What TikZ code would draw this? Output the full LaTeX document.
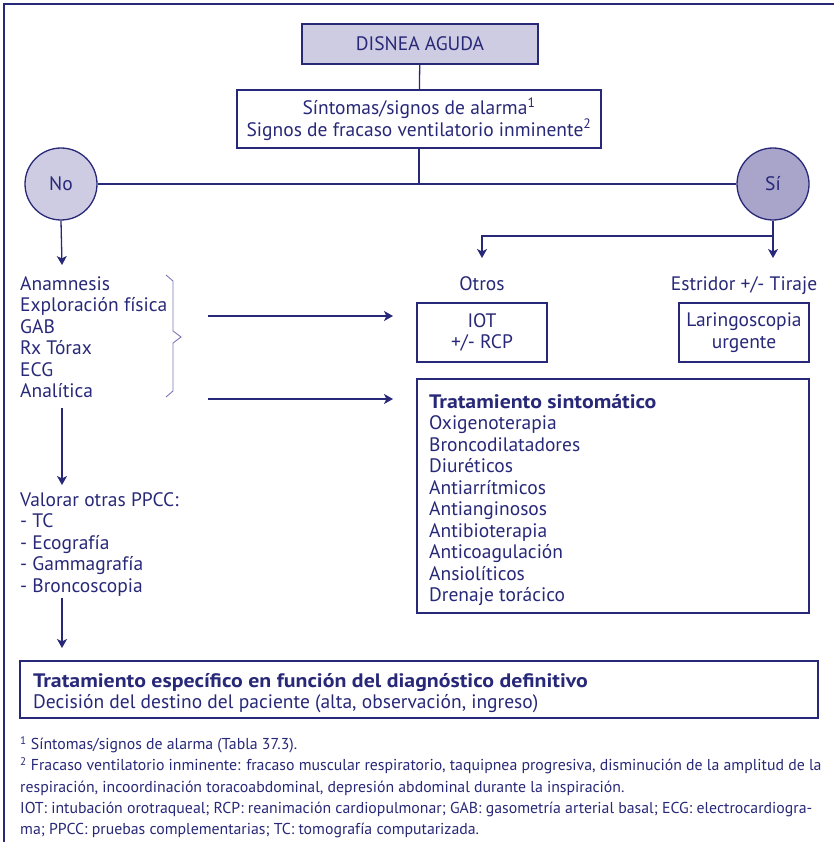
\documentclass[tikz,border=0pt]{standalone}
\usepackage{fontspec}
\setmainfont{PT Sans}[BoldFeatures={FakeStretch=1.12}]
\usetikzlibrary{arrows.meta}
\definecolor{ink}{RGB}{40,40,120}
\definecolor{lav}{RGB}{206,204,226}
\definecolor{lavdark}{RGB}{168,164,202}
\definecolor{bracec}{RGB}{120,118,180}
\begin{document}
\begin{tikzpicture}[x=1pt,y=-1pt,
  every node/.style={text=ink, inner sep=0pt},
  ln/.style={draw=ink, line width=1.3pt},
  arr/.style={ln, -{Stealth[length=9pt,width=10pt,inset=2.5pt]}},
  box/.style={draw=ink, line width=1.3pt, fill=white},
  main/.style={font=\fontsize{19.5}{21.5}\selectfont},
  small/.style={font=\fontsize{15.8}{21.4}\selectfont},
  bub/.style={circle, draw=ink, line width=1.3pt, minimum size=72pt, main},
]
\useasboundingbox (0,0) rectangle (834,842);
\draw[ink, line width=2.5pt] (4,842) -- (4,4) -- (834,4);

\node[box, fill=lav, minimum width=236pt, minimum height=40pt, main] (title) at (420,44) {DISNEA AGUDA};
\node[box, minimum width=364pt, minimum height=58pt, main, align=center] (sint) at (419,119) {Síntomas/signos de alarma\textsuperscript{1}\\Signos de fracaso ventilatorio inminente\textsuperscript{2}};
\node[bub, fill=lav] (no) at (61,184) {No};
\node[bub, fill=lavdark] (si) at (773,184) {Sí};

\draw[ln] (title) -- (sint);
\draw[ln] (no) -- (si);
\draw[ln] (sint.south) -- (sint.south |- no.center);

\coordinate (br) at (773,236);
\coordinate (otip) at (482,258);
\coordinate (etip) at (773,258);
\draw[arr] (si.south) -- (etip);
\draw[arr] (br) -| (otip);

\node[main, anchor=base] (otros) at (482,290) {Otros};
\node[main, anchor=base] (estr) at (744,290) {Estridor +/- Tiraje};

\node[box, minimum width=130pt, minimum height=59pt, main, align=center] (iot) at (482,332.5) {IOT\\+/- RCP};
\node[box, minimum width=130pt, minimum height=59pt, main, align=center] (lar) at (744,332.5) {Laringoscopia\\urgente};
\node[box, minimum width=392pt, minimum height=234pt] (trat) at (613,496) {};
\node[main, anchor=north west, align=left] (tratt) at (429,394) {\textbf{Tratamiento sintomático}\\Oxigenoterapia\\Broncodilatadores\\Diuréticos\\Antiarrítmicos\\Antianginosos\\Antibioterapia\\Anticoagulación\\Ansiolíticos\\Drenaje torácico};

\node[main, anchor=north west, align=left] (lista) at (20,276) {Anamnesis\\Exploración física\\GAB\\Rx Tórax\\ECG\\Analítica};
\draw[bracec, line width=0.9pt] (166,275) -- (173,281) -- (173,331) -- (181,337) -- (173,343) -- (173,391) -- (166,397);

\coordinate (a1s) at (208,316);
\coordinate (a1e) at (393,316);
\coordinate (a2s) at (208,399);
\coordinate (a2e) at (393,399);
\draw[arr] (a1s) -- (a1e);
\draw[arr] (a2s) -- (a2e);

\coordinate (n1) at (62,265);
\coordinate (n2s) at (62,408);
\coordinate (n2e) at (62,485);
\coordinate (n3s) at (62,598);
\coordinate (n3e) at (62,648);
\draw[arr] (no.south) -- (n1);
\draw[arr] (n2s) -- (n2e);
\draw[arr] (n3s) -- (n3e);

\node[main, anchor=north west, align=left] (valo) at (20,492) {Valorar otras PPCC:\\- TC\\- Ecografía\\- Gammagrafía\\- Broncoscopia};

\node[box, minimum width=798pt, minimum height=57pt] (fin) at (419,689.5) {};
\node[main, anchor=north west, align=left] (fint) at (33,673) {\textbf{Tratamiento específico en función del diagnóstico definitivo}\\Decisión del destino del paciente (alta, observación, ingreso)};

\node[small, anchor=north west, align=left] (notes) at (20,736) {\textsuperscript{1} Síntomas/signos de alarma (Tabla 37.3).\\
\textsuperscript{2} Fracaso ventilatorio inminente: fracaso muscular respiratorio, taquipnea progresiva, disminución de la amplitud de la\\
respiración, incoordinación toracoabdominal, depresión abdominal durante la inspiración.\\
IOT: intubación orotraqueal; RCP: reanimación cardiopulmonar; GAB: gasometría arterial basal; ECG: electrocardiogra-\\
ma; PPCC: pruebas complementarias; TC: tomografía computarizada.};
\end{tikzpicture}
\end{document}
